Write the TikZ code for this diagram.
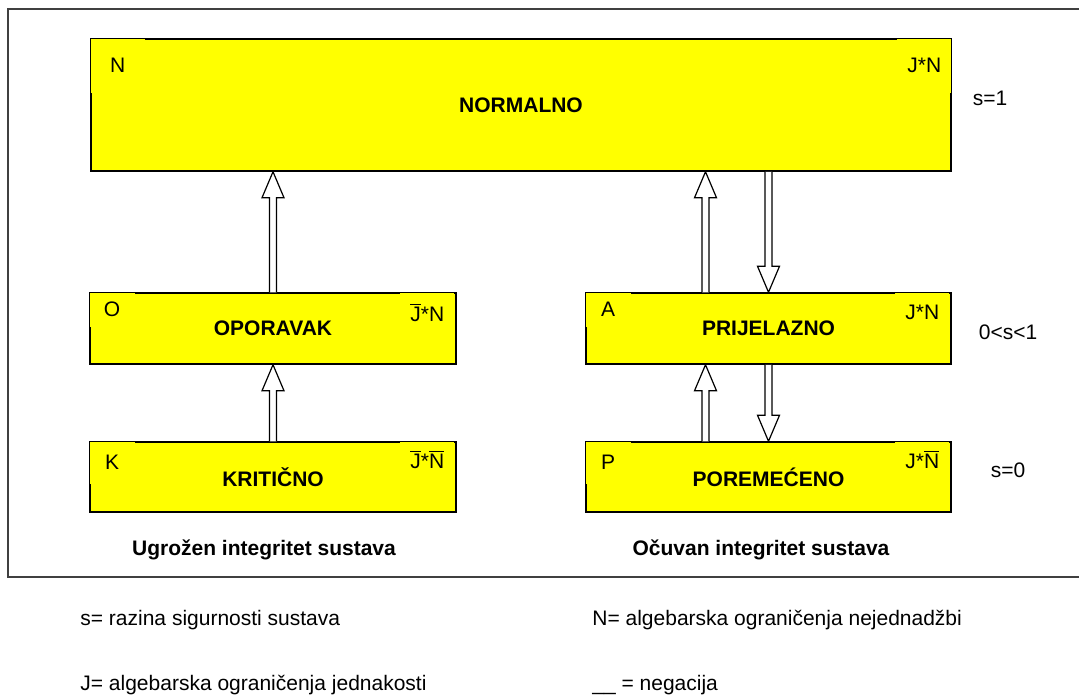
\documentclass[tikz,border=0pt]{standalone}
\usepackage{fontspec}
\setmainfont{Liberation Sans}
\usetikzlibrary{calc}

\definecolor{stateyellow}{RGB}{255,255,0}
\newcommand{\txtsize}{\fontsize{10.5}{12.6}\selectfont}

\tikzset{
  state/.style={draw, fill=stateyellow, line width=0.75pt, font=\txtsize\bfseries},
  tag/.style={fill=stateyellow, inner sep=0pt, font=\txtsize},
  plain/.style={inner sep=0pt, font=\txtsize},
  trans/.style={draw, fill=white, line width=0.6pt,
    to path={let \p1=(\tikztostart), \p2=(\tikztotarget),
      \n1={(\y2>\y1)*2-1} in
      (\x1-1.75pt,\y1) -- (\x1-1.75pt,\y2-\n1*13pt) -- (\x1-5.5pt,\y2-\n1*13pt)
      -- (\x1,\y2) -- (\x1+5.5pt,\y2-\n1*13pt) -- (\x1+1.75pt,\y2-\n1*13pt)
      -- (\x1+1.75pt,\y1)}},
}

\begin{document}
\begin{tikzpicture}[x=0.5pt, y=-0.5pt]
  \useasboundingbox (0,0) rectangle (1079,696);
  % Outer frame (runs off the right edge)
  \draw[line width=1pt, black!75] (1079,9) -- (8,9) -- (8,577) -- (1079,577);

  % States
  \node[state, minimum width=430pt, minimum height=66pt] (no) at (521,105) {NORMALNO};
  \node[state, minimum width=183pt, minimum height=35.5pt] (op) at (273,328.5) {OPORAVAK};
  \node[state, minimum width=183pt, minimum height=35pt] (kr) at (273,477) {KRITIČNO};
  \node[state, minimum width=182.5pt, minimum height=35.5pt] (pr) at (768.5,328.5) {PRIJELAZNO};
  \node[state, minimum width=182.5pt, minimum height=35pt] (po) at (768.5,477) {POREMEĆENO};

  % Corner tags
  \node[tag, minimum width=27pt, minimum height=27pt, anchor=north west] (noL) at (no.north west) {N};
  \node[tag, minimum width=27pt, minimum height=27pt, anchor=north east] (noR) at (no.north east) {J*N};
  \node[tag, minimum width=22.5pt, minimum height=17pt, anchor=north west] (opL) at (op.north west) {O};
  \node[tag, minimum width=27pt, minimum height=20pt, anchor=north east] (opR) at ([xshift=-1pt]op.north east) {$\overline{\mbox{J}}$*N};
  \node[tag, minimum width=22.5pt, minimum height=21pt, anchor=north west] (krL) at (kr.north west) {K};
  \node[tag, minimum width=27pt, minimum height=18pt, anchor=north east] (krR) at ([xshift=-1pt]kr.north east) {$\overline{\mbox{J}}$*$\overline{\mbox{N}}$};
  \node[tag, minimum width=22.5pt, minimum height=17pt, anchor=north west] (prL) at (pr.north west) {A};
  \node[tag, minimum width=27pt, minimum height=20pt, anchor=north east] (prR) at ([xshift=-1pt]pr.north east) {J*N};
  \node[tag, minimum width=22.5pt, minimum height=21pt, anchor=north west] (poL) at (po.north west) {P};
  \node[tag, minimum width=27pt, minimum height=18pt, anchor=north east] (poR) at ([xshift=-1pt]po.north east) {J*$\overline{\mbox{N}}$};

  % Levels of s
  \node[plain] (s1) at (990,98) {s=1};
  \node[plain] (s2) at (1008,332) {0<s<1};
  \node[plain] (s3) at (1008,470) {s=0};

  % Transitions
  \draw[trans] (op.north) to (no.south);
  \draw[trans] (kr.north) to (op.south);
  \draw[trans] ([xshift=-31.5pt]pr.north) to (no.south);
  \draw[trans] (no.south -| pr.north) to (pr.north);
  \draw[trans] ([xshift=-31.5pt]po.north) to (pr.south);
  \draw[trans] (pr.south) to (po.north);

  % Column captions
  \node[plain, font=\txtsize\bfseries] (ugr) at (264,550) {Ugrožen integritet sustava};
  \node[plain, font=\txtsize\bfseries] (ocu) at (761,550) {Očuvan integritet sustava};

  % Legend
  \node[plain, anchor=west] (lgs) at (80,620) {s= razina sigurnosti sustava};
  \node[plain, anchor=west] (lgj) at (80,685) {J= algebarska ograničenja jednakosti};
  \node[plain, anchor=west] (lgn) at (592,620) {N= algebarska ograničenja nejednadžbi};
  \node[plain, anchor=west] (lgneg) at (592,685) {\_\_\ = negacija};
\end{tikzpicture}
\end{document}
